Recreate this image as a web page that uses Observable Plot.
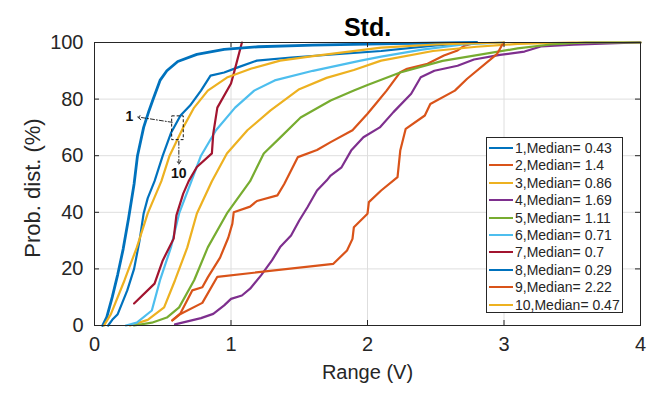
<!DOCTYPE html>
<html>
<head>
<meta charset="utf-8">
<script src="https://cdn.jsdelivr.net/npm/d3@7"></script>
<script src="https://cdn.jsdelivr.net/npm/@observablehq/plot@0.6"></script>
<style>
  html, body { margin: 0; padding: 0; background: #fff; }
  #wrap { position: relative; width: 660px; height: 397px; font-family: "Liberation Sans", Arial, sans-serif; }
  #legend { position: absolute; left: 486px; top: 137px; width: 137px; height: 176px; border: 1px solid #262626; background: #fff; box-sizing: border-box; }
  .row { position: absolute; left: 2px; height: 17px; display: flex; align-items: center; font-size: 14px; color: #262626; white-space: nowrap; }
  .sw { width: 24px; height: 2px; margin-right: 2px; }
</style>
</head>
<body>
<div id="wrap"></div>
<script>
// ---- data ----
const names = ["1,Median= 0.43","2,Median= 1.4","3,Median= 0.86","4,Median= 1.69","5,Median= 1.11",
               "6,Median= 0.71","7,Median= 0.7","8,Median= 0.29","9,Median= 2.22","10,Median= 0.47"];
const colors = ["#0072BD","#D95319","#EDB120","#7E2F8E","#77AC30","#4DBEEE","#A2142F","#0072BD","#D95319","#EDB120"];
const widths = [2.2,2.2,2.2,2.2,2.2,2.2,2.2,2.8,2.2,2.2];

const c1 = [[0.10,0],[0.13,2],[0.17,4],[0.24,12.4],[0.29,20],[0.33,30],[0.36,39.6],[0.39,45],[0.44,51],[0.50,60],[0.56,68],[0.63,74.2],[0.70,77.7],[0.78,83],[0.85,88.3],[0.95,89.4],[1.05,91.2],[1.19,93.6],[1.44,94.7],[2.1,97],[2.5,99],[2.8,100]];
const c2 = [[0.57,1.8],[0.63,4.3],[0.716,12.4],[0.79,13.5],[0.83,17],[0.92,24],[0.98,31],[1.01,36],[1.02,40],[1.14,42],[1.19,44],[1.34,46],[1.39,50],[1.49,59.5],[1.63,62],[1.73,64.8],[1.89,69],[2.0,74.8],[2.07,78.9],[2.14,83],[2.24,89.5],[2.29,90.7],[2.44,92.5],[2.56,95.4],[2.66,97.2],[2.71,98.9],[2.8,100]];
const c3 = [[0.26,0],[0.39,2],[0.51,6.4],[0.59,16],[0.68,27.6],[0.75,39.6],[0.86,51],[0.97,60.8],[1.12,69],[1.29,76],[1.5,83.5],[1.7,87.5],[1.9,90.3],[2.1,93.6],[2.48,97],[2.8,98.5],[3.1,99.5],[3.5,100],[4,100]];
const c4 = [[0.59,0.4],[0.78,2.6],[0.87,4.1],[0.95,7.1],[1.0,9.4],[1.08,10.6],[1.14,13],[1.22,17.7],[1.30,23],[1.36,27.7],[1.44,31.8],[1.50,37.1],[1.56,41.8],[1.63,47.7],[1.70,51.2],[1.73,53],[1.81,55.9],[1.88,61.8],[1.97,66.5],[2.09,70],[2.19,75.4],[2.32,81.9],[2.39,87.7],[2.49,90],[2.66,91.8],[2.78,94],[2.97,95.6],[3.15,96.8],[3.27,98.6],[3.51,99.2],[3.98,100],[4,100]];
const c5 = [[0.29,0],[0.42,1],[0.53,2.8],[0.62,6.4],[0.73,16],[0.83,27.6],[0.97,39.6],[1.14,51],[1.24,60.8],[1.36,66.4],[1.51,73.5],[1.73,79.5],[1.9,83],[2.0,85],[2.24,89.4],[2.55,93.5],[3.1,97.9],[3.34,99.3],[3.6,100],[4,100]];
const c6 = [[0.23,0],[0.31,1],[0.42,5.3],[0.48,16],[0.56,27.6],[0.62,39.6],[0.71,51],[0.78,60],[0.89,69],[1.03,77],[1.17,83],[1.32,86.6],[1.6,90],[1.95,93.6],[2.1,95],[2.4,97.5],[2.7,99.3],[3.0,100]];
const c7 = [[0.29,7.8],[0.44,14.8],[0.50,23],[0.58,30.7],[0.60,38.9],[0.65,46.6],[0.69,51],[0.75,56],[0.86,60.8],[0.87,67.8],[0.90,77],[1.0,85.5],[1.02,89],[1.08,100]];
const c8 = [[0.06,0],[0.09,3],[0.13,10],[0.17,18],[0.21,27],[0.25,38],[0.29,50],[0.315,60],[0.36,70],[0.40,76],[0.43,80],[0.48,86.6],[0.53,90],[0.61,93.3],[0.75,95.8],[0.95,97.6],[1.2,98.5],[1.6,99.1],[2.2,99.6],[2.8,100]];
const c9 = [[0.57,1.8],[0.63,4.1],[0.79,8],[0.90,17.2],[1.75,21.8],[1.85,26.5],[1.89,30.6],[1.90,34.7],[2.0,39.5],[2.01,43.6],[2.1,47.7],[2.22,52.4],[2.24,61.8],[2.28,69.5],[2.42,74.2],[2.46,78.3],[2.64,83],[2.73,87.2],[2.95,96],[2.99,99.5],[3.0,100]];
const c10 = [[0.07,0],[0.12,4],[0.22,16],[0.31,27.6],[0.39,39.6],[0.49,51],[0.55,60],[0.65,70],[0.73,77],[0.83,83],[0.97,87.6],[1.15,90.8],[1.36,93.6],[1.6,95.2],[2.1,98.2],[2.5,99.3],[3.0,100]];
const curves = [c1,c2,c3,c4,c5,c6,c7,c8,c9,c10];

const xTicks = [0,1,2,3,4];
const yTicks = [0,20,40,60,80,100];

// annotation (data units)
const annRect = [{x1:0.569, x2:0.654, y1:65.5, y2:73.9}];
const annArrows = [{x1:0.569, y1:71.8, x2:0.315, y2:73.7}, {x1:0.618, y1:65.1, x2:0.618, y2:57.0}];
const annLabels = [{x:0.255, y:73.8, t:"1"}, {x:0.618, y:53.6, t:"10"}];

const W = 660, H = 397, mL = 94, mR = 20, mT = 42, mB = 72;
const pw = W - mL - mR, ph = H - mT - mB;
const font = '"Liberation Sans", Arial, sans-serif';

const marks = [
  Plot.gridX(xTicks, {stroke: "#dedede", strokeOpacity: 1, strokeWidth: 1}),
  Plot.gridY(yTicks, {stroke: "#dedede", strokeOpacity: 1, strokeWidth: 1}),
  ...curves.map((c, i) => Plot.line(c, {x: d => d[0], y: d => d[1], stroke: colors[i], strokeWidth: widths[i]})),
  Plot.rect(annRect, {x1:"x1", x2:"x2", y1:"y1", y2:"y2", fill: "none", stroke: "#111", strokeWidth: 1, strokeDasharray: "3,2"}),
  Plot.arrow(annArrows, {x1:"x1", y1:"y1", x2:"x2", y2:"y2", stroke: "#111", strokeWidth: 0.9, strokeDasharray: "4,2,1,2", headLength: 7, bend: 0}),
  Plot.text(annLabels, {x:"x", y:"y", text:"t", fontWeight: "bold", fontSize: 14, fill: "#111"}),
  Plot.frame({stroke: "#262626", strokeWidth: 1}),
  // inward ticks
  Plot.tickX(xTicks, {x: d => d, stroke: "#262626", insetTop: ph - 5}),
  Plot.tickX(xTicks, {x: d => d, stroke: "#262626", insetBottom: ph - 5}),
  Plot.tickY(yTicks, {y: d => d, stroke: "#262626", insetRight: pw - 5}),
  Plot.tickY(yTicks, {y: d => d, stroke: "#262626", insetLeft: pw - 5}),
  Plot.axisX(xTicks, {tickSize: 0, tickPadding: 11, fontSize: 20, label: null, fill: "#262626", tickFormat: d => String(d)}),
  Plot.axisY(yTicks, {tickSize: 0, tickPadding: 11, fontSize: 20, label: null, fill: "#262626", tickFormat: d => String(d)}),
  Plot.text(["Std."], {frameAnchor: "top", dy: -24, fontWeight: "bold", fontSize: 25, fill: "#000"}),
  Plot.text(["Range (V)"], {frameAnchor: "bottom", dy: 53, fontSize: 20, fill: "#262626"}),
  Plot.text(["Prob. dist. (%)"], {frameAnchor: "left", textAnchor: "middle", dx: -62, dy: 4, rotate: -90, fontSize: 22, fill: "#262626"})
];

const chart = Plot.plot({
  width: W, height: H,
  marginLeft: mL, marginRight: mR, marginTop: mT, marginBottom: mB,
  style: {fontFamily: font, background: "white", overflow: "visible"},
  x: {domain: [0, 4]},
  y: {domain: [0, 100]},
  marks
});

const wrap = document.getElementById("wrap");
wrap.appendChild(chart);

// legend
const leg = document.createElement("div");
leg.id = "legend";
names.forEach((n, i) => {
  const r = document.createElement("div");
  r.className = "row";
  r.style.top = (1.5 + i * 17.4) + "px";
  const sw = document.createElement("span");
  sw.className = "sw";
  sw.style.background = colors[i];
  r.appendChild(sw);
  const t = document.createElement("span");
  t.textContent = n;
  r.appendChild(t);
  leg.appendChild(r);
});
wrap.appendChild(leg);
</script>
</body>
</html>
